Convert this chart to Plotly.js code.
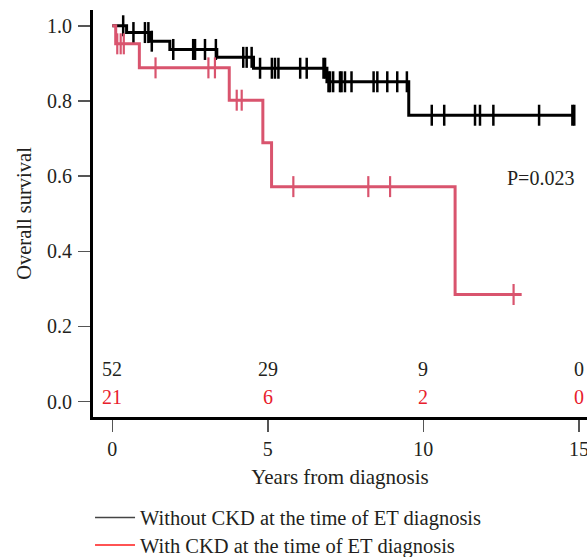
<!DOCTYPE html>
<html><head><meta charset="utf-8">
<script src="https://cdn.plot.ly/plotly-3.0.1.min.js"></script>
<style>html,body{margin:0;padding:0;background:#fff;}#chart{width:587px;height:557px;}</style>
</head><body><div id="chart"></div>
<script>
// Kaplan-Meier step data
var timeWithout = [0, 0.46, 1.21, 1.85, 3.36, 4.54, 6.9, 9.53, 14.85];
var survWithout = [1.0, 0.982, 0.959, 0.937, 0.916, 0.887, 0.851, 0.762, 0.762];
var censorWithout = [0.35, 0.68, 1.05, 1.16, 1.27, 1.96, 2.6, 2.66, 2.98, 3.33, 4.21, 4.32, 4.48, 4.75, 5.13, 5.23, 5.34, 6.04, 6.25, 6.79, 6.84, 6.95, 7.0, 7.1, 7.32, 7.37, 7.48, 7.69, 8.4, 8.52, 8.84, 9.16, 9.47, 10.27, 10.67, 11.66, 11.82, 12.25, 13.72, 14.79, 14.85];

var timeWith = [0, 0.11, 0.87, 3.76, 4.84, 5.12, 11.02, 13.16];
var survWith = [1.0, 0.952, 0.888, 0.802, 0.689, 0.572, 0.285, 0.285];
var censorWith = [0.16, 0.27, 0.37, 1.39, 3.09, 3.3, 4.0, 4.16, 5.82, 8.23, 8.93, 12.9];

// Numbers at risk
var riskTimes = [0, 5, 10, 15];
var riskWithout = [52, 29, 9, 0];
var riskWith = [21, 6, 2, 0];

var nameWithout = "Without CKD at the time of ET diagnosis";
var nameWith = "With CKD at the time of ET diagnosis";
var pText = "P=0.023";

function stepAt(times, surv, t) {
  var v = surv[0];
  for (var i = 0; i < times.length; i++) { if (times[i] <= t) v = surv[i]; }
  return v;
}

var BLACK = "#000000", RED = "#d9546e", FONT = "Liberation Serif, Times New Roman, serif", TXT = "#231f20";

var traces = [
  {x: timeWithout, y: survWithout, type: "scatter", mode: "lines", line: {shape: "hv", color: BLACK, width: 3}, showlegend: false, hoverinfo: "skip"},
  {x: censorWithout, y: censorWithout.map(function(t){return stepAt(timeWithout, survWithout, t);}), type: "scatter", mode: "markers",
   marker: {symbol: "line-ns", size: 15, line: {width: 2.5, color: BLACK}}, showlegend: false, hoverinfo: "skip"},
  {x: timeWith, y: survWith, type: "scatter", mode: "lines", line: {shape: "hv", color: RED, width: 3}, showlegend: false, hoverinfo: "skip"},
  {x: censorWith, y: censorWith.map(function(t){return stepAt(timeWith, survWith, t);}), type: "scatter", mode: "markers",
   marker: {symbol: "line-ns", size: 15, line: {width: 2.2, color: RED}}, showlegend: false, hoverinfo: "skip"},
  {x: [null], y: [null], type: "scatter", mode: "lines", name: nameWithout, line: {color: "#444", width: 1.5}, legend: "legend"},
  {x: [null], y: [null], type: "scatter", mode: "lines", name: nameWith, line: {color: "#ff1a1a", width: 1.5}, legend: "legend2"}
];

var annotations = [];
riskTimes.forEach(function(t, i) {
  annotations.push({x: t, y: 0.087, xref: "x", yref: "y", text: String(riskWithout[i]), showarrow: false,
    xanchor: "center", yanchor: "middle", font: {family: FONT, size: 20, color: TXT}});
  annotations.push({x: t, y: 0.012, xref: "x", yref: "y", text: String(riskWith[i]), showarrow: false,
    xanchor: "center", yanchor: "middle", font: {family: FONT, size: 20, color: "#e8202c"}});
});
annotations.push({x: 13.78, y: 0.595, xref: "x", yref: "y", text: pText, showarrow: false,
  xanchor: "center", yanchor: "middle", font: {family: FONT, size: 20, color: TXT}});

var legendBase = {x: -0.006, xanchor: "left", yanchor: "top", bgcolor: "rgba(0,0,0,0)",
  font: {family: FONT, size: 20.5, color: TXT}, itemwidth: 40, borderwidth: 0};

var layout = {
  width: 587, height: 557,
  margin: {l: 93, r: 0, t: 10, b: 140, autoexpand: false},
  paper_bgcolor: "#fff", plot_bgcolor: "#fff",
  font: {family: FONT, size: 20, color: TXT},
  xaxis: {range: [-0.62, 15.26], tickvals: [0, 5, 10, 15], ticks: "outside", ticklen: 12, tickwidth: 1.5, tickcolor: "#555",
    showline: true, linewidth: 3, linecolor: BLACK, showgrid: false, zeroline: false, ticklabelstandoff: 0,
    ticklabeloverflow: "allow",
    tickfont: {family: FONT, size: 20, color: TXT},
    title: {text: "Years from diagnosis", font: {family: FONT, size: 21, color: TXT}, standoff: 11}},
  yaxis: {range: [-0.041, 1.042], tickvals: [0, 0.2, 0.4, 0.6, 0.8, 1.0], tickformat: ".1f", ticks: "outside", ticklen: 12,
    tickwidth: 1.5, tickcolor: "#555", showline: true, linewidth: 3, linecolor: BLACK, showgrid: false, zeroline: false,
    ticklabelstandoff: 2, tickfont: {family: FONT, size: 20, color: TXT},
    title: {text: "Overall survival", font: {family: FONT, size: 20.5, color: TXT}, standoff: 10}},
  showlegend: true,
  legend: Object.assign({}, legendBase, {y: -0.198}),
  legend2: Object.assign({}, legendBase, {y: -0.266}),
  annotations: annotations
};

Plotly.newPlot("chart", traces, layout, {displayModeBar: false, staticPlot: true});
</script></body></html>
